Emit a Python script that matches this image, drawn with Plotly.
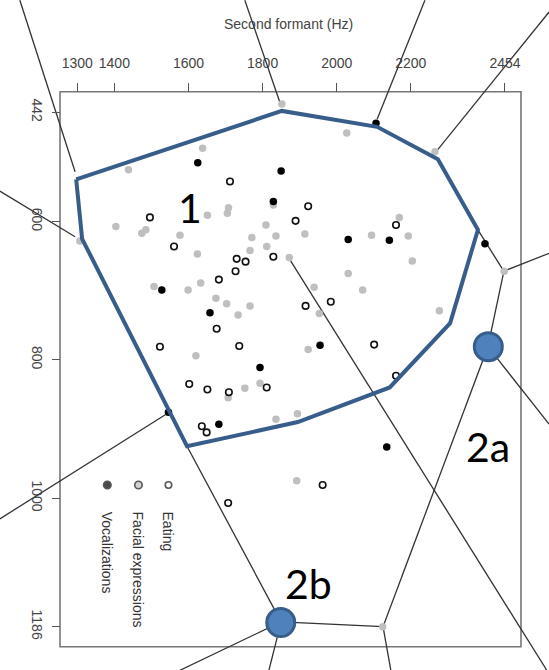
import plotly.graph_objects as go

# ---- data (Hz): second formant F2 on x, first formant F1 on y ----
eating_f2 = [1712, 1496, 1561, 1730, 1754, 1829, 1727, 1682, 1676, 1923,
             1889, 2160, 1984, 1916, 1523, 1737, 1602, 1651, 1709, 1811,
             1636, 1649, 2101, 2160, 1707, 1962]
eating_f1 = [542, 594, 636, 654, 658, 651, 672, 684, 755, 578,
             599, 605, 716, 722, 781, 780, 835, 843, 847, 840,
             896, 905, 778, 823, 1007, 981]

facial_f2 = [1638, 1438, 1708, 1705, 1651, 1404, 1485, 1474, 1577, 1307,
             1809, 1771, 1811, 1766, 1624, 1633, 1599, 1507, 1674, 1703,
             1766, 1734, 2027, 2265, 1829, 1836, 1914, 1872, 2094, 2169,
             2193, 2204, 2452, 2031, 2070, 1939, 1953, 2277, 1620, 1707,
             1752, 1793, 1836, 1923, 1894, 1892, 2124, 1852]
facial_f1 = [494, 525, 580, 588, 591, 607, 612, 617, 620, 628,
             605, 623, 636, 642, 647, 689, 699, 694, 711, 719,
             722, 735, 472, 499, 576, 621, 618, 652, 620, 594,
             621, 657, 672, 675, 699, 695, 733, 729, 794, 855,
             841, 834, 886, 785, 878, 975, 1186, 430]

vocal_f2 = [1625, 1850, 1829, 1528, 1658, 2106, 2031, 2142, 2400, 1793,
            1546, 1682, 1955, 2135]
vocal_f1 = [515, 527, 571, 699, 732, 458, 626, 627, 632, 811,
            876, 893, 779, 926]

# partition edges between regions: [start, end] per edge
edge_f2 = [[1145, 1294], [1091, 1294], [1752, 1850], [2238, 2109],
           [2573, 2271], [2381, 2451], [2459, 2573], [2451, 2408],
           [2408, 2125], [2408, 2573], [1850, 2125], [2125, 2146],
           [1850, 1817], [1850, 1577], [1871, 2567], [1596, 1850],
           [1545, 1091]]
edge_f1 = [[280, 528], [556, 622], [280, 433], [280, 452],
           [297, 497], [612, 672], [670, 646], [672, 781],
           [781, 1186], [781, 893], [1179, 1186], [1186, 1249],
           [1179, 1249], [1179, 1249], [653, 1249], [925, 1179],
           [877, 1030]]

# outline of region 1
region1_f2 = [1297, 1313, 1596, 1895, 2143, 2306, 2381, 2273, 2109, 1852, 1297]
region1_f1 = [539, 625, 925, 890, 840, 747, 612, 510, 463, 440, 539]

# region 2a / 2b vertices
zone_labels = ["2a", "2b"]
zone_f2 = [2409, 1849]
zone_f1 = [781, 1180]

x_ticks = [1300, 1400, 1600, 1800, 2000, 2200, 2454]
y_ticks = [442, 600, 800, 1000, 1186]

legend_names = ["Vocalizations", "Facial expressions", "Eating"]

# ---- layout constants ----
W, H = 549, 670
X_RANGE = [1091.4, 2572.8]
Y_RANGE = [1248.6, 279.6]
BOX_F2 = [1253.3, 2497.2]
BOX_F1 = [412.2, 1214.9]
KEY_F2 = [1381, 1465, 1546]
KEY_F1 = 981
BLUE_FILL = "#4F81BD"
BLUE_LINE = "#385D8A"
TXT = "#444444"
SANS = "Liberation Sans, Arial"

fig = go.Figure()

# partition edges
ex, ey = [], []
for xs, ys in zip(edge_f2, edge_f1):
    ex += xs + [None]
    ey += ys + [None]
fig.add_trace(go.Scatter(x=ex, y=ey, mode="lines",
                         line=dict(color="#333333", width=1.3),
                         hoverinfo="skip"))

# observations
fig.add_trace(go.Scatter(x=facial_f2, y=facial_f1, mode="markers",
                         marker=dict(size=7.5, color="#bfbfbf"),
                         name="Facial expressions"))
fig.add_trace(go.Scatter(x=vocal_f2, y=vocal_f1, mode="markers",
                         marker=dict(size=7.5, color="#000000"),
                         name="Vocalizations"))
fig.add_trace(go.Scatter(x=eating_f2, y=eating_f1, mode="markers",
                         marker=dict(size=6.5, symbol="circle-open",
                                     color="#111111", line=dict(width=1.6)),
                         name="Eating"))

# legend keys
fig.add_trace(go.Scatter(
    x=KEY_F2, y=[KEY_F1] * 3, mode="markers",
    marker=dict(size=[7.5, 7.5, 6.5], color=["#000000", "#bfbfbf", "#111111"],
                symbol=["circle", "circle", "circle-open"],
                line=dict(width=1.6, color="#111111")),
    hoverinfo="skip"))

# region 1 outline
fig.add_trace(go.Scatter(x=region1_f2, y=region1_f1, mode="lines",
                         line=dict(color=BLUE_LINE, width=4),
                         hoverinfo="skip"))

# region 2 vertices
fig.add_trace(go.Scatter(x=zone_f2, y=zone_f1, mode="markers",
                         marker=dict(size=28, color=BLUE_FILL,
                                     line=dict(color=BLUE_LINE, width=3)),
                         hoverinfo="skip"))

# plot frame
fig.add_shape(type="rect", xref="x", yref="y",
              x0=BOX_F2[0], x1=BOX_F2[1], y0=BOX_F1[0], y1=BOX_F1[1],
              line=dict(color="#777777", width=1.6), layer="below")

ann = []
ann.append(dict(text="Second formant (Hz)", xref="paper", yref="paper",
                x=288.5 / W, y=1 - 24 / H, xanchor="center", yanchor="middle",
                showarrow=False, font=dict(family=SANS, size=14, color=TXT)))
for name, kx in zip(legend_names, KEY_F2):
    ann.append(dict(text=name, xref="x", yref="paper", x=kx, y=1 - 510 / H,
                    xanchor="center", yanchor="top", textangle=90,
                    showarrow=False,
                    font=dict(family=SANS, size=14, color="#333333")))
big = dict(family="Lato, Open Sans, sans-serif", size=41, color="#000000")
for txt, px, py in [("1", 190, 207.5), (zone_labels[0], 488, 447),
                    (zone_labels[1], 308, 583)]:
    ann.append(dict(text=txt, xref="paper", yref="paper", x=px / W,
                    y=1 - py / H, xanchor="center", yanchor="middle",
                    showarrow=False, font=big))

fig.update_layout(
    width=W, height=H,
    margin=dict(l=0, r=0, t=0, b=0),
    paper_bgcolor="white", plot_bgcolor="white",
    showlegend=False,
    annotations=ann,
    xaxis=dict(range=X_RANGE, domain=[0, 1], side="top", anchor="free",
               position=1 - 91.7 / H, tickmode="array", tickvals=x_ticks,
               ticks="outside", ticklen=9, tickwidth=1.3, tickcolor="#555555",
               ticklabelstandoff=9,
               showgrid=False, zeroline=False, showline=False,
               automargin=False,
               tickfont=dict(family=SANS, size=14, color=TXT)),
    yaxis=dict(range=Y_RANGE, domain=[0, 1], anchor="free",
               position=60 / W, side="left", tickmode="array",
               tickvals=y_ticks, tickangle=90,
               ticks="outside", ticklen=8, tickwidth=1.3, tickcolor="#555555",
               ticklabelstandoff=3,
               showgrid=False, zeroline=False, showline=False,
               automargin=False,
               tickfont=dict(family=SANS, size=14, color=TXT)),
)

fig.write_html("out.html")
